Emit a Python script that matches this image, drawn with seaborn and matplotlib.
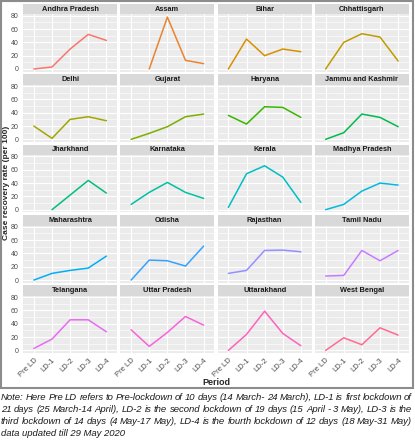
import numpy as np
import pandas as pd
import matplotlib
matplotlib.use("Agg")
import matplotlib.pyplot as plt
import seaborn as sns
from matplotlib.patches import Rectangle
from matplotlib.ticker import MultipleLocator

# Periods (x axis) and states (facets)
periods = ["Pre LD", "LD-1", "LD-2", "LD-3", "LD-4"]
states = ["Andhra Pradesh", "Assam", "Bihar", "Chhattisgarh",
          "Delhi", "Gujarat", "Haryana", "Jammu and Kashmir",
          "Jharkhand", "Karnataka", "Kerala", "Madhya Pradesh",
          "Maharashtra", "Odisha", "Rajasthan", "Tamil Nadu",
          "Telangana", "Uttar Pradesh", "Uttarakhand", "West Bengal"]

# Case recovery rate (per 100)
andhra = [0, 3, 30, 52, 43]
assam = [np.nan, 0, 78, 13, 8]
bihar = [0, 45, 20, 30, 26]
chhattisgarh = [0, 40, 53, 48, 12]
delhi = [20, 1.5, 30, 34, 28]
gujarat = [0, 9, 19, 34, 38]
haryana = [36, 23, 49, 48, 33]
jk = [0, 10, 38, 33, 19]
jharkhand = [np.nan, 0, 22, 44, 25]
karnataka = [8, 26, 41, 26, 17]
kerala = [3.5, 54, 66, 49, 11]
mp = [0, 8, 28, 40, 37]
maharashtra = [0, 10, 14.5, 18, 36]
odisha = [0, 30, 29, 21, 51]
rajasthan = [10, 14.5, 44.5, 45, 42.5]
tamil_nadu = [6, 7, 44.5, 29, 44.5]
telangana = [3, 17, 46, 46, 28]
up = [31, 6, 27, 51, 38]
uttarakhand = [0, 24, 59, 25.5, 7]
west_bengal = [0, 19, 8.5, 34, 23]

values = [andhra, assam, bihar, chhattisgarh, delhi, gujarat, haryana, jk,
          jharkhand, karnataka, kerala, mp, maharashtra, odisha, rajasthan,
          tamil_nadu, telangana, up, uttarakhand, west_bengal]

# ggplot2 default hue palette for 20 levels
colors = ["#F8766D", "#EA8331", "#D89000", "#C09B00", "#A3A500", "#7CAE00",
          "#39B600", "#00BB4E", "#00BF7D", "#00C1A3", "#00BFC4", "#00BAE0",
          "#00B0F6", "#35A2FF", "#9590FF", "#C77CFF", "#E76BF3", "#FA62DB",
          "#FF62BC", "#FF6C91"]

rows = []
for st, vals in zip(states, values):
    for i, v in enumerate(vals):
        rows.append({"State": st, "pos": i, "Period": periods[i], "Rate": v})
df = pd.DataFrame(rows)

sns.set_style("white")
plt.rcParams["font.family"] = ["Liberation Sans", "DejaVu Sans"]

W, H = 415, 440
fig, axes = plt.subplots(5, 4, figsize=(W / 100, H / 100), dpi=100,
                         sharex=True, sharey=True)
fig.subplots_adjust(left=23 / W, right=409 / W, top=1 - 14.5 / H,
                    bottom=1 - 353 / H, hspace=13.25 / 57, wspace=3 / 94)

for k, (ax, st) in enumerate(zip(axes.flat, states)):
    sub = df[df["State"] == st].dropna()
    ax.set_facecolor("#EBEBEB")
    sns.lineplot(data=sub, x="pos", y="Rate", color=colors[k], linewidth=1.1,
                 ax=ax, legend=False)
    ax.set_xlim(-0.6, 4.6)
    ax.set_ylim(-3.9, 81.9)
    ax.yaxis.set_major_locator(MultipleLocator(20))
    ax.yaxis.set_minor_locator(MultipleLocator(10))
    ax.set_xticks(range(len(periods)))
    ax.grid(which="major", color="white", linewidth=0.8)
    ax.grid(which="minor", axis="y", color="white", linewidth=0.4)
    ax.set_axisbelow(True)
    for sp in ax.spines.values():
        sp.set_visible(False)
    ax.set_xlabel("")
    ax.set_ylabel("")
    ax.tick_params(which="major", length=2, width=0.5, color="#333333",
                   labelsize=5.5, labelcolor="#4D4D4D", pad=1)
    ax.tick_params(axis="y", labelsize=5)
    ax.tick_params(which="minor", length=0)
    # facet strip
    ax.add_patch(Rectangle((0, 1.0), 1, 0.185, transform=ax.transAxes,
                           facecolor="#D9D9D9", edgecolor="none", clip_on=False))
    ax.text(0.5, 1.0925, st, transform=ax.transAxes, ha="center", va="center",
            fontsize=5.3, fontweight="bold", color="#1A1A1A")

for ax in axes[-1]:
    ax.set_xticks(range(len(periods)))
    ax.set_xticklabels(periods, rotation=45, ha="right", rotation_mode="anchor")

fig.text(6.5 / W, 1 - 183 / H, "Case recovery rate (per 100)", rotation=90,
         ha="center", va="center", fontsize=6, fontweight="bold")
fig.text(216 / W, 1 - 382 / H, "Period", ha="center", va="center",
         fontsize=6.5, fontweight="bold")

# outer frame around the chart
fig.add_artist(Rectangle((1 / W, 1 - 388 / H), 412 / W, 387 / H,
                         transform=fig.transFigure, fill=False,
                         edgecolor="#8C8C8C", linewidth=1.5))

# justified note below the chart
note = ["Note: Here Pre LD refers to Pre-lockdown of 10 days (14 March- 24 March), LD-1 is first lockdown of",
        "21 days (25 March-14 April), LD-2 is the second lockdown of 19 days (15 April - 3 May), LD-3 is the",
        "third lockdown of 14 days (4 May-17 May), LD-4 is the fourth lockdown of 12 days (18 May-31 May)",
        "data updated till 29 May 2020"]
renderer = fig.canvas.get_renderer()
x0, x1 = 1.0, 412.0
note_kw = dict(fontsize=6.8, fontstyle="italic", color="#1A1A1A",
               va="baseline", ha="left")
for i, line in enumerate(note):
    ypos = 1 - (400 + 12 * i) / H
    words = line.split(" ")
    if i == len(note) - 1:
        fig.text(x0 / W, ypos, line, **note_kw)
        continue
    arts = [fig.text(0, ypos, w, **note_kw) for w in words]
    widths = [a.get_window_extent(renderer).width for a in arts]
    gap = (x1 - x0 - sum(widths)) / (len(words) - 1)
    x = x0
    for a, w in zip(arts, widths):
        a.set_x(x / W)
        x += w + gap

fig.savefig("out.png", dpi=100)
